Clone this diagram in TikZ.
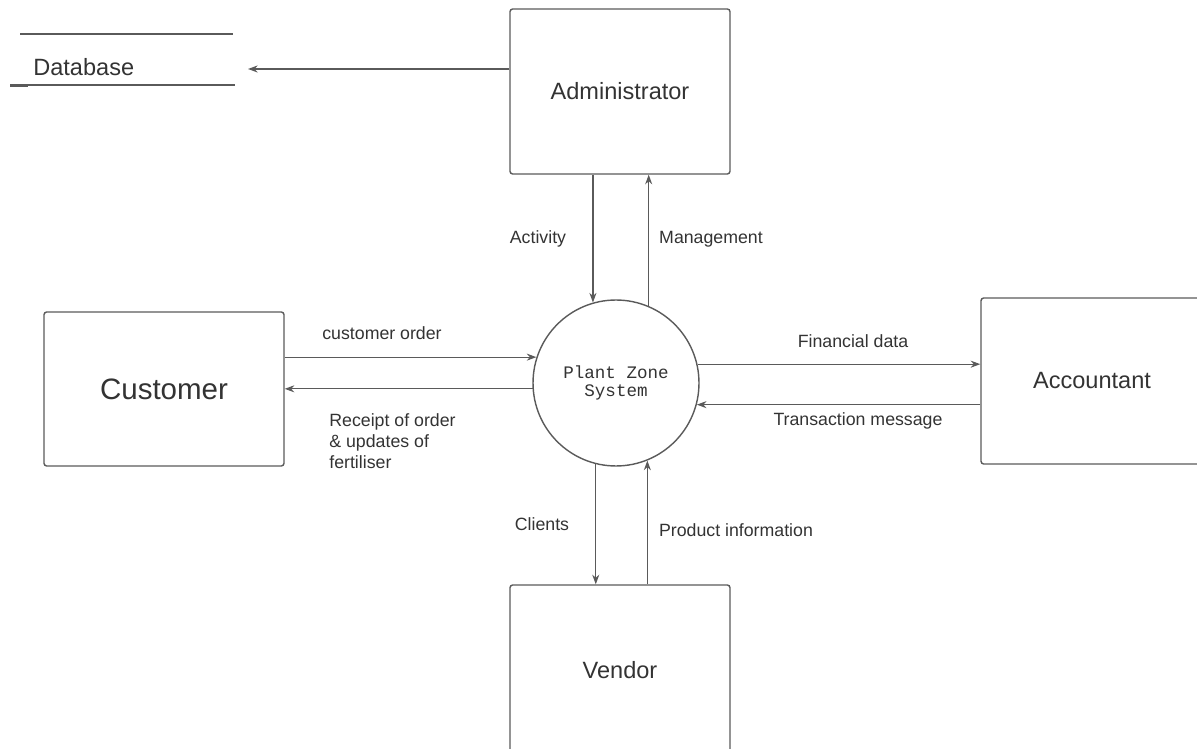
\documentclass[tikz,border=0pt]{standalone}
\usepackage{fontspec}
\setmainfont{Liberation Sans}
\setmonofont{Liberation Mono}
\usetikzlibrary{arrows.meta, positioning}
\definecolor{linegray}{HTML}{5A5A5A}
\definecolor{txtgray}{HTML}{333333}

\begin{document}
\begin{tikzpicture}[x=0.02cm, y=-0.02cm,
    entity/.style={rectangle, draw=linegray, line width=0.8pt, rounded corners=1.5pt, inner sep=0pt, text=txtgray, font=\fontsize{13.4}{16}\selectfont},
    flowlbl/.style={inner sep=0pt, text=txtgray, font=\fontsize{10.1}{12}\selectfont},
    flow/.style={draw=linegray, line width=0.7pt, -{Stealth[length=5.5pt,width=4pt]}}]
    \clip (0,0) rectangle (1197,749);
    \useasboundingbox (0,0) rectangle (1197,749);

    % entities
    \node[entity, minimum width=4.4cm, minimum height=3.3cm] (admin) at (620,91.5) {Administrator};
    \node[entity, minimum width=4.8cm, minimum height=3.08cm, font=\fontsize{16.8}{20}\selectfont] (cust) at (164,389) {Customer};
    \node[entity, minimum width=4.44cm, minimum height=3.32cm] (acct) at (1092,381) {Accountant};
    \node[entity, minimum width=4.4cm, minimum height=3.4cm] (vend) at (620,670) {Vendor};
    \node[circle, draw=linegray, line width=0.8pt, minimum size=3.32cm, inner sep=0pt, align=center, text=txtgray, font=\ttfamily\fontsize{10}{10.2}\selectfont] (sys) at (616,383) {Plant Zone\\System};

    % data store
    \node[anchor=west, inner sep=0pt, text=txtgray, font=\fontsize{13.4}{16}\selectfont] (db) at (33,67) {Database};
    \draw[linegray, line width=0.8pt] (20,34) -- (233,34);
    \draw[linegray, line width=0.8pt] (10,85) -- (235,85);
    \draw[linegray, line width=1.6pt] (10,86) -- (28,86);
    \coordinate (dbin) at (248,69);

    % flows
    \draw[flow] (admin.west |- dbin) -- (dbin);
    \draw[flow] (admin.south -| sys.106.8) -- (sys.106.8);
    \draw[flow] (sys.67.3) -- (sys.67.3 |- admin.south);
    \draw[flow] (cust.east |- sys.162.5) -- (sys.162.5);
    \draw[flow] (sys.184.1) -- (sys.184.1 -| cust.east);
    \draw[flow] (sys.13.9) -- (sys.13.9 -| acct.west);
    \draw[flow] (acct.west |- sys.-15.4) -- (sys.-15.4);
    \draw[flow] (sys.256) -- (sys.256 |- vend.north);
    \draw[flow] (vend.north -| sys.292.7) -- (sys.292.7);

    % flow labels
    \node[flowlbl] (lact) at (538,239) {Activity};
    \node[flowlbl] (lmgt) at (711,239) {Management};
    \node[flowlbl] (lord) at (382,333) {customer order};
    \node[flowlbl, anchor=west, align=left] (lrcp) at (329,441) {Receipt of order\\ \& updates of\\ fertiliser};
    \node[flowlbl] (lfin) at (853,341) {Financial data};
    \node[flowlbl] (ltrn) at (858,421) {Transaction message};
    \node[flowlbl] (lcli) at (542,524) {Clients};
    \node[flowlbl] (lprd) at (736,530) {Product information};
\end{tikzpicture}
\end{document}
